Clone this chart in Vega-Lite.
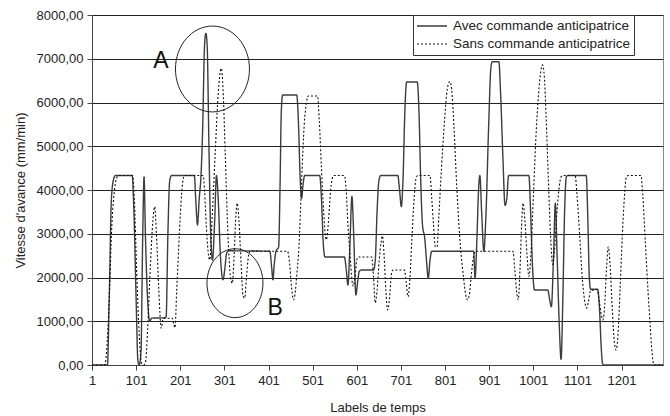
{
  "$schema": "https://vega.github.io/schema/vega-lite/v6.json",
  "width": 571,
  "height": 350,
  "autosize": {"type": "none"},
  "padding": {"left": 92, "top": 15, "right": 7, "bottom": 51},
  "background": "white",
  "config": {
    "font": "Liberation Sans",
    "view": {"stroke": "#8a8a8a", "strokeWidth": 1},
    "axis": {"labelFont": "Liberation Sans", "titleFont": "Liberation Sans", "labelColor": "#222", "titleColor": "#222", "titleFontWeight": "normal", "labelFontSize": 13, "titleFontSize": 13, "domainColor": "#444", "tickColor": "#444"}
  },
  "datasets": {
    "curves": [
      {"t":1,"v":0,"s":"A"},{"t":36,"v":0,"s":"A"},{"t":40,"v":1500,"s":"A"},{"t":45,"v":3800,"s":"A"},{"t":50,"v":4250,"s":"A"},{"t":54,"v":4330,"s":"A"},{"t":92,"v":4330,"s":"A"},{"t":96,"v":3500,"s":"A"},{"t":101,"v":1500,"s":"A"},{"t":105,"v":100,"s":"A"},{"t":108,"v":0,"s":"A"},{"t":112,"v":300,"s":"A"},{"t":116,"v":3000,"s":"A"},{"t":119,"v":4300,"s":"A"},{"t":122,"v":3000,"s":"A"},{"t":127,"v":1500,"s":"A"},{"t":132,"v":1000,"s":"A"},{"t":136,"v":1070,"s":"A"},{"t":166,"v":1080,"s":"A"},{"t":169,"v":1100,"s":"A"},{"t":173,"v":3000,"s":"A"},{"t":177,"v":4200,"s":"A"},{"t":181,"v":4330,"s":"A"},{"t":233,"v":4330,"s":"A"},{"t":236,"v":3800,"s":"A"},{"t":240,"v":3200,"s":"A"},{"t":244,"v":3800,"s":"A"},{"t":248,"v":4330,"s":"A"},{"t":252,"v":5500,"s":"A"},{"t":256,"v":7300,"s":"A"},{"t":259,"v":7580,"s":"A"},{"t":262,"v":7300,"s":"A"},{"t":266,"v":5000,"s":"A"},{"t":270,"v":3000,"s":"A"},{"t":274,"v":2400,"s":"A"},{"t":279,"v":3300,"s":"A"},{"t":283,"v":4330,"s":"A"},{"t":287,"v":3800,"s":"A"},{"t":292,"v":2500,"s":"A"},{"t":298,"v":1950,"s":"A"},{"t":302,"v":2200,"s":"A"},{"t":306,"v":2550,"s":"A"},{"t":310,"v":2610,"s":"A"},{"t":404,"v":2600,"s":"A"},{"t":408,"v":2250,"s":"A"},{"t":411,"v":1950,"s":"A"},{"t":414,"v":2300,"s":"A"},{"t":418,"v":2600,"s":"A"},{"t":424,"v":2700,"s":"A"},{"t":427,"v":4000,"s":"A"},{"t":430,"v":5800,"s":"A"},{"t":433,"v":6170,"s":"A"},{"t":465,"v":6170,"s":"A"},{"t":469,"v":5500,"s":"A"},{"t":473,"v":4200,"s":"A"},{"t":476,"v":3810,"s":"A"},{"t":479,"v":4100,"s":"A"},{"t":483,"v":4330,"s":"A"},{"t":517,"v":4330,"s":"A"},{"t":521,"v":3800,"s":"A"},{"t":525,"v":2800,"s":"A"},{"t":529,"v":2470,"s":"A"},{"t":573,"v":2470,"s":"A"},{"t":577,"v":2200,"s":"A"},{"t":581,"v":1830,"s":"A"},{"t":585,"v":2600,"s":"A"},{"t":590,"v":3850,"s":"A"},{"t":594,"v":3000,"s":"A"},{"t":599,"v":1600,"s":"A"},{"t":603,"v":1900,"s":"A"},{"t":607,"v":2150,"s":"A"},{"t":612,"v":2170,"s":"A"},{"t":639,"v":2170,"s":"A"},{"t":643,"v":2400,"s":"A"},{"t":647,"v":3500,"s":"A"},{"t":651,"v":4200,"s":"A"},{"t":655,"v":4330,"s":"A"},{"t":694,"v":4330,"s":"A"},{"t":698,"v":4000,"s":"A"},{"t":702,"v":3620,"s":"A"},{"t":706,"v":4300,"s":"A"},{"t":710,"v":5800,"s":"A"},{"t":714,"v":6470,"s":"A"},{"t":738,"v":6470,"s":"A"},{"t":742,"v":5800,"s":"A"},{"t":746,"v":4200,"s":"A"},{"t":750,"v":3200,"s":"A"},{"t":755,"v":2900,"s":"A"},{"t":759,"v":2400,"s":"A"},{"t":763,"v":1980,"s":"A"},{"t":767,"v":2400,"s":"A"},{"t":771,"v":2600,"s":"A"},{"t":866,"v":2600,"s":"A"},{"t":869,"v":1980,"s":"A"},{"t":873,"v":2800,"s":"A"},{"t":877,"v":4000,"s":"A"},{"t":880,"v":4330,"s":"A"},{"t":884,"v":3500,"s":"A"},{"t":889,"v":2600,"s":"A"},{"t":894,"v":3500,"s":"A"},{"t":900,"v":5500,"s":"A"},{"t":905,"v":6800,"s":"A"},{"t":908,"v":6930,"s":"A"},{"t":923,"v":6930,"s":"A"},{"t":927,"v":6200,"s":"A"},{"t":932,"v":4800,"s":"A"},{"t":937,"v":3650,"s":"A"},{"t":941,"v":3800,"s":"A"},{"t":945,"v":4330,"s":"A"},{"t":991,"v":4330,"s":"A"},{"t":995,"v":3500,"s":"A"},{"t":999,"v":2300,"s":"A"},{"t":1004,"v":1714,"s":"A"},{"t":1034,"v":1714,"s":"A"},{"t":1038,"v":1500,"s":"A"},{"t":1042,"v":1333,"s":"A"},{"t":1047,"v":2500,"s":"A"},{"t":1051,"v":3700,"s":"A"},{"t":1055,"v":2500,"s":"A"},{"t":1060,"v":900,"s":"A"},{"t":1064,"v":130,"s":"A"},{"t":1068,"v":1500,"s":"A"},{"t":1072,"v":3500,"s":"A"},{"t":1076,"v":4300,"s":"A"},{"t":1079,"v":4330,"s":"A"},{"t":1121,"v":4330,"s":"A"},{"t":1125,"v":3200,"s":"A"},{"t":1128,"v":2000,"s":"A"},{"t":1131,"v":1730,"s":"A"},{"t":1147,"v":1730,"s":"A"},{"t":1151,"v":1300,"s":"A"},{"t":1155,"v":400,"s":"A"},{"t":1158,"v":30,"s":"A"},{"t":1162,"v":0,"s":"A"},{"t":1295,"v":0,"s":"A"},
      {"t":1,"v":0,"s":"S"},{"t":30,"v":0,"s":"S"},{"t":34,"v":300,"s":"S"},{"t":40,"v":1500,"s":"S"},{"t":46,"v":3200,"s":"S"},{"t":52,"v":4000,"s":"S"},{"t":58,"v":4300,"s":"S"},{"t":62,"v":4330,"s":"S"},{"t":93,"v":4330,"s":"S"},{"t":97,"v":3800,"s":"S"},{"t":102,"v":2200,"s":"S"},{"t":108,"v":700,"s":"S"},{"t":113,"v":50,"s":"S"},{"t":118,"v":0,"s":"S"},{"t":122,"v":50,"s":"S"},{"t":127,"v":800,"s":"S"},{"t":133,"v":2200,"s":"S"},{"t":139,"v":3300,"s":"S"},{"t":143,"v":3620,"s":"S"},{"t":147,"v":3000,"s":"S"},{"t":152,"v":1800,"s":"S"},{"t":158,"v":840,"s":"S"},{"t":162,"v":1060,"s":"S"},{"t":166,"v":1070,"s":"S"},{"t":183,"v":1070,"s":"S"},{"t":186,"v":950,"s":"S"},{"t":189,"v":850,"s":"S"},{"t":193,"v":1700,"s":"S"},{"t":199,"v":3000,"s":"S"},{"t":204,"v":3900,"s":"S"},{"t":209,"v":4300,"s":"S"},{"t":213,"v":4330,"s":"S"},{"t":253,"v":4330,"s":"S"},{"t":256,"v":4000,"s":"S"},{"t":260,"v":3200,"s":"S"},{"t":264,"v":2600,"s":"S"},{"t":268,"v":2400,"s":"S"},{"t":273,"v":3300,"s":"S"},{"t":280,"v":4800,"s":"S"},{"t":287,"v":6200,"s":"S"},{"t":294,"v":6780,"s":"S"},{"t":298,"v":6300,"s":"S"},{"t":303,"v":4800,"s":"S"},{"t":309,"v":3000,"s":"S"},{"t":315,"v":2000,"s":"S"},{"t":319,"v":1870,"s":"S"},{"t":323,"v":2500,"s":"S"},{"t":327,"v":3400,"s":"S"},{"t":330,"v":3700,"s":"S"},{"t":334,"v":3300,"s":"S"},{"t":339,"v":2300,"s":"S"},{"t":343,"v":1600,"s":"S"},{"t":347,"v":1530,"s":"S"},{"t":351,"v":2000,"s":"S"},{"t":355,"v":2450,"s":"S"},{"t":359,"v":2600,"s":"S"},{"t":444,"v":2600,"s":"S"},{"t":449,"v":2300,"s":"S"},{"t":453,"v":1800,"s":"S"},{"t":458,"v":1490,"s":"S"},{"t":462,"v":1700,"s":"S"},{"t":465,"v":2050,"s":"S"},{"t":470,"v":2700,"s":"S"},{"t":476,"v":4200,"s":"S"},{"t":482,"v":5500,"s":"S"},{"t":487,"v":6000,"s":"S"},{"t":491,"v":6150,"s":"S"},{"t":512,"v":6150,"s":"S"},{"t":516,"v":5600,"s":"S"},{"t":521,"v":4500,"s":"S"},{"t":526,"v":3500,"s":"S"},{"t":532,"v":2860,"s":"S"},{"t":537,"v":3300,"s":"S"},{"t":541,"v":3900,"s":"S"},{"t":545,"v":4250,"s":"S"},{"t":549,"v":4330,"s":"S"},{"t":573,"v":4330,"s":"S"},{"t":577,"v":4000,"s":"S"},{"t":581,"v":3200,"s":"S"},{"t":586,"v":2500,"s":"S"},{"t":590,"v":1950,"s":"S"},{"t":593,"v":1800,"s":"S"},{"t":597,"v":2000,"s":"S"},{"t":601,"v":2400,"s":"S"},{"t":605,"v":2470,"s":"S"},{"t":635,"v":2470,"s":"S"},{"t":639,"v":2000,"s":"S"},{"t":643,"v":1420,"s":"S"},{"t":647,"v":1700,"s":"S"},{"t":652,"v":2400,"s":"S"},{"t":656,"v":2800,"s":"S"},{"t":659,"v":2950,"s":"S"},{"t":663,"v":2500,"s":"S"},{"t":667,"v":1700,"s":"S"},{"t":671,"v":1260,"s":"S"},{"t":675,"v":1500,"s":"S"},{"t":678,"v":1900,"s":"S"},{"t":681,"v":2150,"s":"S"},{"t":684,"v":2170,"s":"S"},{"t":709,"v":2170,"s":"S"},{"t":713,"v":1900,"s":"S"},{"t":717,"v":1560,"s":"S"},{"t":721,"v":1900,"s":"S"},{"t":726,"v":2900,"s":"S"},{"t":731,"v":3800,"s":"S"},{"t":735,"v":4250,"s":"S"},{"t":739,"v":4330,"s":"S"},{"t":767,"v":4330,"s":"S"},{"t":771,"v":3800,"s":"S"},{"t":775,"v":3200,"s":"S"},{"t":779,"v":2700,"s":"S"},{"t":783,"v":2700,"s":"S"},{"t":787,"v":3400,"s":"S"},{"t":793,"v":4500,"s":"S"},{"t":800,"v":5600,"s":"S"},{"t":806,"v":6300,"s":"S"},{"t":812,"v":6480,"s":"S"},{"t":816,"v":6300,"s":"S"},{"t":821,"v":5500,"s":"S"},{"t":828,"v":4000,"s":"S"},{"t":836,"v":2700,"s":"S"},{"t":843,"v":2000,"s":"S"},{"t":848,"v":1600,"s":"S"},{"t":852,"v":1490,"s":"S"},{"t":856,"v":1600,"s":"S"},{"t":861,"v":2100,"s":"S"},{"t":866,"v":2500,"s":"S"},{"t":870,"v":2600,"s":"S"},{"t":955,"v":2600,"s":"S"},{"t":959,"v":2200,"s":"S"},{"t":963,"v":1700,"s":"S"},{"t":967,"v":1490,"s":"S"},{"t":971,"v":2200,"s":"S"},{"t":975,"v":3300,"s":"S"},{"t":978,"v":3700,"s":"S"},{"t":982,"v":3300,"s":"S"},{"t":987,"v":2500,"s":"S"},{"t":991,"v":2020,"s":"S"},{"t":996,"v":2600,"s":"S"},{"t":1001,"v":3800,"s":"S"},{"t":1007,"v":5200,"s":"S"},{"t":1013,"v":6200,"s":"S"},{"t":1018,"v":6700,"s":"S"},{"t":1022,"v":6860,"s":"S"},{"t":1026,"v":6600,"s":"S"},{"t":1030,"v":5700,"s":"S"},{"t":1035,"v":4300,"s":"S"},{"t":1040,"v":3000,"s":"S"},{"t":1045,"v":2300,"s":"S"},{"t":1049,"v":2600,"s":"S"},{"t":1054,"v":3400,"s":"S"},{"t":1059,"v":4000,"s":"S"},{"t":1064,"v":4300,"s":"S"},{"t":1068,"v":4330,"s":"S"},{"t":1096,"v":4330,"s":"S"},{"t":1100,"v":3900,"s":"S"},{"t":1106,"v":3000,"s":"S"},{"t":1112,"v":2000,"s":"S"},{"t":1117,"v":1500,"s":"S"},{"t":1122,"v":1300,"s":"S"},{"t":1126,"v":1450,"s":"S"},{"t":1131,"v":1700,"s":"S"},{"t":1146,"v":1720,"s":"S"},{"t":1150,"v":1500,"s":"S"},{"t":1155,"v":1150,"s":"S"},{"t":1159,"v":1030,"s":"S"},{"t":1163,"v":1400,"s":"S"},{"t":1167,"v":2200,"s":"S"},{"t":1171,"v":2700,"s":"S"},{"t":1175,"v":2300,"s":"S"},{"t":1180,"v":1300,"s":"S"},{"t":1185,"v":500,"s":"S"},{"t":1189,"v":343,"s":"S"},{"t":1193,"v":700,"s":"S"},{"t":1198,"v":1800,"s":"S"},{"t":1203,"v":3000,"s":"S"},{"t":1208,"v":3900,"s":"S"},{"t":1212,"v":4300,"s":"S"},{"t":1216,"v":4330,"s":"S"},{"t":1245,"v":4330,"s":"S"},{"t":1249,"v":3900,"s":"S"},{"t":1255,"v":2800,"s":"S"},{"t":1261,"v":1700,"s":"S"},{"t":1266,"v":900,"s":"S"},{"t":1270,"v":300,"s":"S"},{"t":1273,"v":50,"s":"S"},{"t":1276,"v":0,"s":"S"},{"t":1295,"v":0,"s":"S"}
    ],
    "marks": [
      {"t": 274, "v": 6766, "k": "A"},
      {"t": 325, "v": 1870, "k": "B"}
    ],
    "letters": [
      {"t": 157, "v": 6950, "k": "A"},
      {"t": 416, "v": 1300, "k": "B"}
    ]
  },
  "layer": [
    {
      "data": {"name": "curves"},
      "mark": {"type": "line", "interpolate": "monotone"},
      "encoding": {
        "x": {"field": "t", "type": "quantitative", "scale": {"domain": [1, 1295], "nice": false, "zero": false},
              "axis": {"values": [1,101,201,301,401,501,601,701,801,901,1001,1101,1201], "format": "d", "grid": false, "tickSize": 5, "labelPadding": 4, "title": "Labels de temps", "titleY": 42, "titleBaseline": "middle", "labelFlush": false}},
        "y": {"field": "v", "type": "quantitative", "scale": {"domain": [0, 8000], "nice": false},
              "axis": {"values": [0,1000,2000,3000,4000,5000,6000,7000,8000], "labelExpr": "replace(format(datum.value, '.2f'), '.', ',')", "grid": true, "gridColor": "#222", "gridWidth": 1, "tickSize": 5, "labelPadding": 4, "title": "Vitesse d'avance (mm/min)", "titleX": -72, "titleY": 175, "titleBaseline": "middle", "titleAngle": -90}},
        "color": {"field": "s", "type": "nominal", "scale": {"domain": ["A", "S"], "range": ["#3c3c3c", "#111111"]},
                  "legend": {"orient": "none", "legendX": 321, "legendY": 0, "title": null, "symbolType": "stroke", "symbolSize": 900, "symbolStrokeWidth": 1.2, "clipHeight": 16, "labelFontSize": 13.5, "labelFont": "Liberation Sans", "labelColor": "#222", "labelOffset": 5, "labelLimit": 400, "rowPadding": 2, "padding": 3, "strokeColor": "#333", "fillColor": "white", "cornerRadius": 0,
                             "labelExpr": "datum.label == 'A' ? 'Avec commande anticipatrice' : 'Sans commande anticipatrice'"}},
        "strokeDash": {"field": "s", "type": "nominal", "scale": {"domain": ["A", "S"], "range": [[1, 0], [2, 2]]}},
        "strokeWidth": {"field": "s", "type": "nominal", "scale": {"domain": ["A", "S"], "range": [1.4, 1.1]}}
      }
    },
    {
      "data": {"name": "marks"},
      "transform": [{"filter": "datum.k == 'A'"}],
      "mark": {"type": "point", "shape": "M -1 0 A 1 1.16 0 1 1 1 0 A 1 1.16 0 1 1 -1 0 Z", "size": 5476, "filled": false, "stroke": "#222", "strokeWidth": 1, "opacity": 1},
      "encoding": {"x": {"field": "t", "type": "quantitative"}, "y": {"field": "v", "type": "quantitative"}}
    },
    {
      "data": {"name": "marks"},
      "transform": [{"filter": "datum.k == 'B'"}],
      "mark": {"type": "point", "shape": "M -1 0 A 1 1.23 0 1 1 1 0 A 1 1.23 0 1 1 -1 0 Z", "size": 3136, "filled": false, "stroke": "#222", "strokeWidth": 1, "opacity": 1},
      "encoding": {"x": {"field": "t", "type": "quantitative"}, "y": {"field": "v", "type": "quantitative"}}
    },
    {
      "data": {"name": "letters"},
      "mark": {"type": "text", "fontSize": 23, "font": "Liberation Sans", "color": "#111", "baseline": "middle", "align": "center"},
      "encoding": {"x": {"field": "t", "type": "quantitative"}, "y": {"field": "v", "type": "quantitative"}, "text": {"field": "k"}}
    }
  ]
}
